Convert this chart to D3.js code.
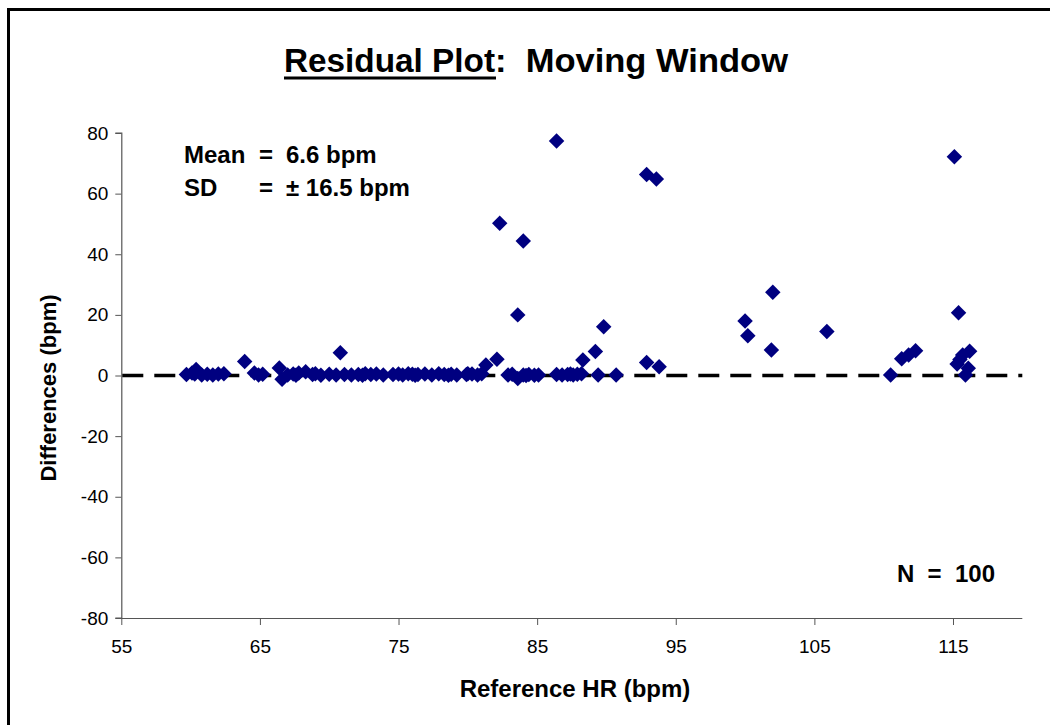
<!DOCTYPE html>
<html>
<head>
<meta charset="utf-8">
<script src="https://cdn.jsdelivr.net/npm/d3@7"></script>
<style>
html,body{margin:0;padding:0;background:#fff;overflow:hidden;}
text{font-family:"Liberation Sans",Arial,sans-serif;}
</style>
</head>
<body>
<svg id="chart" width="1050" height="725"></svg>
<script>
// Reference HR (bpm)
const refHR = [
  59.7,60.1,60.4,60.8,61.2,61.6,62.0,62.4,60.3,
  63.9,64.6,64.9,65.2,66.4,66.6,67.0,67.4,67.8,68.3,68.8,69.4,70.0,70.5,70.8,71.1,71.6,72.1,72.6,73.0,73.4,73.9,67.6,69.0,72.4,
  74.6,75.0,75.3,75.7,76.0,76.4,76.9,77.4,77.9,78.3,78.8,79.2,79.9,80.3,80.7,81.0,81.3,82.1,76.2,78.6,80.0,
  82.9,83.2,83.6,84.0,84.4,84.8,85.1,84.2,
  86.4,86.8,87.2,87.6,87.9,88.2,89.4,90.7,87.4,
  86.4,82.3,84.0,83.6,89.8,89.2,88.3,92.9,93.6,92.9,93.8,
  115.1,102.0,115.4,100.0,100.2,105.9,101.9,110.5,111.3,111.8,112.3,116.2,115.5,115.7,115.3,116.1,115.9
];
// Differences (bpm)
const diffs = [
  0.3,0.8,2.0,0.2,0.4,0.2,0.5,0.6,0.5,
  4.6,0.8,0.2,0.4,2.5,-1.2,0.2,0.5,0.8,1.2,0.3,0.1,0.4,0.2,7.5,0.3,0.2,0.3,0.6,0.3,0.5,0.2,0.1,0.6,0.1,
  0.3,0.5,0.2,0.6,0.4,0.3,0.5,0.2,0.6,0.3,0.4,0.2,0.3,0.5,0.2,0.6,3.5,5.4,0.1,0.1,0.6,
  0.2,0.4,-1.0,0.2,0.3,0.1,0.2,0.0,
  0.3,0.2,0.3,0.2,0.4,0.6,0.2,0.2,0.5,
  77.4,50.2,44.4,20.0,16.1,7.9,5.1,66.3,64.8,4.3,2.9,
  72.2,27.5,20.7,18.0,13.1,14.5,8.4,0.2,5.5,6.8,8.2,8.0,5.3,6.8,3.8,2.4,0.2
];
const xTicks = [55,65,75,85,95,105,115];
const yTicks = [-80,-60,-40,-20,0,20,40,60,80];
const xDomain = [55,120];
const yDomain = [-80,80];
const meanDiff = 6.6, sdDiff = 16.5, nPoints = 100;

const svg = d3.select("#chart");
const L = 121.3, R = 1022.3, T = 133, B = 618;
const x = d3.scaleLinear().domain(xDomain).range([L, R]);
const y = d3.scaleLinear().domain(yDomain).range([B, T]);

// outer frame
svg.append("rect").attr("x",8.5).attr("y",9.5).attr("width",1100).attr("height",800)
  .attr("fill","none").attr("stroke","#000").attr("stroke-width",3);

// title
svg.append("text").attr("x",284).attr("y",72).attr("font-size",33).attr("font-weight","bold")
  .attr("textLength",211).attr("lengthAdjust","spacingAndGlyphs").text("Residual Plot");
svg.append("text").attr("x",495).attr("y",72).attr("font-size",33).attr("font-weight","bold")
  .style("white-space","pre").attr("textLength",293).attr("lengthAdjust","spacingAndGlyphs").text(":  Moving Window");
svg.append("line").attr("x1",284).attr("x2",496).attr("y1",78).attr("y2",78)
  .attr("stroke","#000").attr("stroke-width",3);

// axes
const fmt = d => String(d);
const yAxis = d3.axisLeft(y).tickValues(yTicks).tickSize(6).tickPadding(7).tickFormat(fmt);
const gy = svg.append("g").attr("transform",`translate(${L},0)`).call(yAxis);
const xAxis = d3.axisBottom(x).tickValues(xTicks).tickSize(7).tickPadding(15).tickFormat(fmt);
const gx = svg.append("g").attr("transform",`translate(0,${B})`).call(xAxis);
[gx,gy].forEach(g=>{
  g.select(".domain").attr("stroke","#555").attr("stroke-width",1.2);
  g.selectAll(".tick line").attr("stroke","#555");
  g.selectAll("text").attr("font-size",19).attr("fill","#000")
   .attr("font-family","'Liberation Sans',Arial,sans-serif");
});
gx.select(".domain").attr("d",`M${L},0.5H${R}`);
gy.select(".domain").attr("d",`M-6,${T}H0.5V${B}H-6`);

// zero line
svg.append("line").attr("x1",L+1).attr("x2",R).attr("y1",y(0)).attr("y2",y(0))
  .attr("stroke","#000").attr("stroke-width",3.5).attr("stroke-dasharray","21,11");

// points
const diamond = d3.symbol().type(d3.symbolSquare).size(120);
svg.append("g").selectAll("path").data(refHR.map((v,i)=>[v,diffs[i]])).join("path")
  .attr("d",diamond)
  .attr("transform",d=>`translate(${x(d[0])},${y(d[1])}) rotate(45)`)
  .attr("fill","#000080");

// axis titles
svg.append("text").attr("x",575).attr("y",697).attr("text-anchor","middle")
  .attr("font-size",24).attr("font-weight","bold").text("Reference HR (bpm)");
svg.append("text").attr("transform",`translate(56,388) rotate(-90)`).attr("text-anchor","middle")
  .attr("font-size",22).attr("font-weight","bold").text("Differences (bpm)");

// annotations
const ann = svg.append("g").attr("font-size",24).attr("font-weight","bold");
const eqX = 259, valX = 286;
[["Mean", `${meanDiff.toFixed(1)} bpm`, 163], ["SD", `\u00B1 ${sdDiff.toFixed(1)} bpm`, 196]].forEach(([lab,val,yy])=>{
  ann.append("text").attr("x",184).attr("y",yy).text(lab);
  ann.append("text").attr("x",eqX).attr("y",yy).text("=");
  ann.append("text").attr("x",valX).attr("y",yy).text(val);
});
ann.append("text").attr("x",995).attr("y",582).attr("text-anchor","end").style("white-space","pre")
  .text(`N  =  ${nPoints}`);
</script>
</body>
</html>
